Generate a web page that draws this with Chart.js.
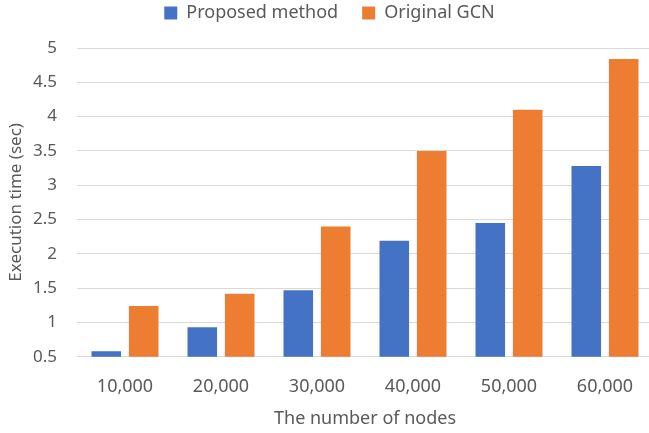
<!DOCTYPE html>
<html>
<head>
<meta charset="utf-8">
<script src="https://cdn.jsdelivr.net/npm/chart.js@4/dist/chart.umd.min.js"></script>
<style>
  html, body { margin: 0; padding: 0; background: #ffffff; overflow: hidden; }
  #wrap { width: 656px; height: 433px; position: relative; }
</style>
</head>
<body>
<div id="wrap"><canvas id="chart"></canvas></div>
<script>
// Execution time per graph size
const categories = ['10,000', '20,000', '30,000', '40,000', '50,000', '60,000'];
const proposedTimes = [0.58, 0.93, 1.47, 2.19, 2.45, 3.28];
const originalTimes = [1.24, 1.42, 2.40, 3.50, 4.10, 4.84];
const seriesNames = ['Proposed method', 'Original GCN'];
const yTitle = 'Execution time (sec)';
const xTitle = 'The number of nodes';

const textColor = '#595959';
const fontFamily = '"Noto Sans", "Open Sans", sans-serif';

// Extra room between the legend and the plot
const legendGap = {
  id: 'legendGap',
  beforeInit(chart) {
    const baseFit = chart.legend.fit;
    chart.legend.fit = function fit() {
      baseFit.bind(chart.legend)();
      this.height += 16;
    };
  }
};

new Chart(document.getElementById('chart'), {
  type: 'bar',
  data: {
    labels: categories,
    datasets: [
      { label: seriesNames[0], data: proposedTimes, backgroundColor: '#4472C4' },
      { label: seriesNames[1], data: originalTimes, backgroundColor: '#ED7D31' }
    ]
  },
  plugins: [legendGap],
  options: {
    responsive: true,
    maintainAspectRatio: false,
    animation: false,
    devicePixelRatio: 1,
    categoryPercentage: 0.78,
    barPercentage: 0.79,
    layout: { padding: { top: -20, right: 3, bottom: 3, left: 6 } },
    plugins: {
      tooltip: { enabled: false },
      legend: {
        position: 'top',
        labels: {
          color: textColor,
          font: { family: fontFamily, size: 18 },
          boxWidth: 13,
          boxHeight: 13,
          padding: 24
        }
      }
    },
    scales: {
      x: {
        grid: { display: false, drawTicks: false },
        border: { display: false },
        ticks: { color: textColor, font: { family: fontFamily, size: 18 }, padding: 19 },
        title: {
          display: true, text: xTitle, color: textColor,
          font: { family: fontFamily, size: 18 }, padding: { top: -8, bottom: 0 }
        }
      },
      y: {
        min: 0.5,
        max: 5,
        afterFit(scale) { scale.width = 71; },
        grid: { color: '#d9d9d9', lineWidth: 1, drawTicks: false },
        border: { display: false },
        ticks: {
          stepSize: 0.5, color: textColor, font: { family: fontFamily, size: 17 }, padding: 20,
          callback: (v) => String(Math.round(v * 10) / 10)
        },
        title: {
          display: true, text: yTitle, color: textColor,
          font: { family: fontFamily, size: 17 }, padding: { top: 0, bottom: 4 }
        }
      }
    }
  }
});
</script>
</body>
</html>
